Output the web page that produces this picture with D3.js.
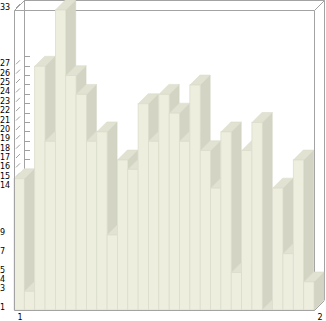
<!DOCTYPE html>
<html>
<head>
<meta charset="utf-8">
<script src="https://cdn.jsdelivr.net/npm/d3@7"></script>
<style>
  html, body { margin: 0; padding: 0; background: #fff; }
  svg { display: block; }
</style>
</head>
<body>
<svg id="chart"></svg>
<script>
// bar values, left to right
const values = [15, 3, 27, 19, 33, 26, 24, 19, 20, 9, 17, 16, 23, 19, 24, 22, 19, 25, 18, 14, 20, 5, 18, 21, 1, 14, 7, 17, 4];
// y tick labels (one per distinct value)
const yTickValues = [33, 27, 26, 25, 24, 23, 22, 21, 20, 19, 18, 17, 16, 15, 14, 9, 7, 5, 4, 3, 1];
// x tick labels
const xTickLabels = ["1", "2"];

const width = 326;
const height = 321;
const depth = 10;
const plotLeft = 14, plotRight = 314, plotTop = 10, plotBottom = 310;

const svg = d3.select("#chart")
  .attr("width", width)
  .attr("height", height);

const x = d3.scaleBand()
  .domain(d3.range(values.length))
  .range([plotLeft, plotRight])
  .padding(0);

const y = d3.scaleLinear()
  .domain([d3.min(yTickValues), d3.max(yTickValues)])
  .range([plotBottom, plotTop]);

const frameColor = "#a3a3a3";
const tickColor = "#a0a0a0";

// back frame
const frame = svg.append("g")
  .attr("fill", "none")
  .attr("stroke", frameColor)
  .attr("stroke-width", 1);

frame.append("path")
  .attr("d", `M${plotLeft + depth + 0.5},${plotBottom - depth} V${plotTop - depth + 0.5} H${plotRight + depth + 0.5} V${plotBottom - depth}`);
frame.append("path")
  .attr("d", `M${plotLeft + 0.5},${plotTop + 0.5} L${plotLeft + depth + 0.5},${plotTop - depth + 0.5}`);
frame.append("path")
  .attr("d", `M${plotRight + 0.5},${plotTop + 0.5} L${plotRight + depth + 0.5},${plotTop - depth + 0.5}`);
frame.append("path")
  .attr("d", `M${plotLeft + 0.5},${plotTop + 0.5} H${plotRight + 0.5} V${plotBottom + 0.5}`);

// ticks on the left wall and back wall
const ticks = svg.append("g")
  .attr("stroke", tickColor)
  .attr("stroke-width", 1);

ticks.selectAll(".diag")
  .data(yTickValues)
  .enter()
  .append("line")
  .attr("class", "diag")
  .attr("x1", plotLeft + 2)
  .attr("y1", (d) => y(d) - 2)
  .attr("x2", plotLeft + 6)
  .attr("y2", (d) => y(d) - 6);

ticks.selectAll(".back")
  .data(yTickValues)
  .enter()
  .append("line")
  .attr("class", "back")
  .attr("x1", plotLeft + depth)
  .attr("x2", plotLeft + depth + 6)
  .attr("y1", (d) => Math.round(y(d) - depth) + 0.5)
  .attr("y2", (d) => Math.round(y(d) - depth) + 0.5);

// bars
const bw = x.bandwidth();
const y0 = y(d3.min(yTickValues));

const bars = svg.append("g")
  .selectAll(".bar")
  .data(values)
  .enter()
  .append("g")
  .attr("class", "bar");

bars.append("path")
  .attr("fill", "#d3d4c3")
  .attr("stroke", "#cfd0bf")
  .attr("stroke-width", 0.5)
  .attr("d", (d, i) => {
    const x1 = x(i) + bw, yt = y(d);
    return `M${x1},${yt} L${x1 + depth},${yt - depth} L${x1 + depth},${y0 - depth} L${x1},${y0} Z`;
  });

bars.append("path")
  .attr("fill", "#e1e2d1")
  .attr("stroke", "#d9dac9")
  .attr("stroke-width", 0.5)
  .attr("d", (d, i) => {
    const x0 = x(i), x1 = x0 + bw, yt = y(d);
    return `M${x0},${yt} L${x1},${yt} L${x1 + depth},${yt - depth} L${x0 + depth},${yt - depth} Z`;
  });

bars.append("rect")
  .attr("x", (d, i) => x(i))
  .attr("y", (d) => y(d))
  .attr("width", bw)
  .attr("height", (d) => y0 - y(d))
  .attr("fill", "#eeeedf")
  .attr("stroke", "#dcddcc")
  .attr("stroke-width", 0.8);

// front edges over the bars
const edges = svg.append("g")
  .attr("fill", "none")
  .attr("stroke", frameColor)
  .attr("stroke-width", 1);

edges.append("path")
  .attr("d", `M${plotLeft + 0.5},${plotTop + 0.5} V${plotBottom + 0.5} H${plotRight + 0.5} L${plotRight + depth + 0.5},${plotBottom - depth + 0.5}`);

// y labels
svg.append("g")
  .selectAll("text")
  .data(yTickValues)
  .enter()
  .append("text")
  .attr("x", 0)
  .attr("y", (d) => y(d))
  .attr("font-family", "DejaVu Sans, sans-serif")
  .attr("font-size", "8px")
  .attr("fill", "#000")
  .text((d) => d);

// x labels
const xl = d3.scaleLinear()
  .domain([1, 2])
  .range([plotLeft, plotRight]);

svg.append("g")
  .selectAll("text")
  .data(xTickLabels)
  .enter()
  .append("text")
  .attr("x", (d) => xl(+d) + 6)
  .attr("y", 320)
  .attr("text-anchor", "middle")
  .attr("font-family", "DejaVu Sans, sans-serif")
  .attr("font-size", "8px")
  .attr("fill", "#000")
  .text((d) => d);
</script>
</body>
</html>
